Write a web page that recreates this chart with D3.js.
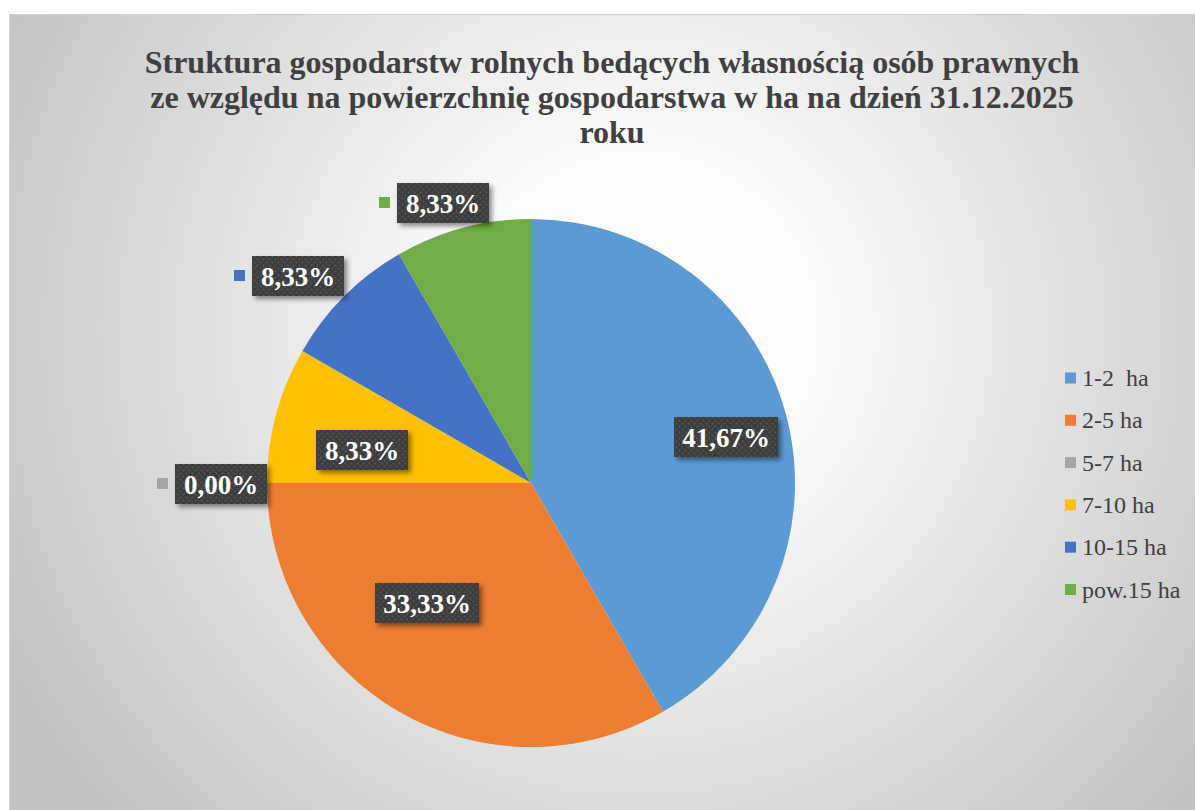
<!DOCTYPE html>
<html lang="pl">
<head>
<meta charset="UTF-8">
<title>Struktura gospodarstw rolnych</title>
<script src="https://d3js.org/d3.v7.min.js"></script>
<style>
  body { margin: 0; background: #fff; }
  svg text { font-family: "Liberation Serif", "Times New Roman", serif; }
</style>
</head>
<body>
<script>
// data
const categories = ["1-2  ha", "2-5 ha", "5-7 ha", "7-10 ha", "10-15 ha", "pow.15 ha"];
const values = [41.67, 33.33, 0.00, 8.33, 8.33, 8.33];
const colors = ["#5B9BD5", "#ED7D31", "#A5A5A5", "#FFC000", "#4472C4", "#70AD47"];
const titleLines = [
  "Struktura gospodarstw rolnych bedących własnością osób prawnych",
  "ze względu na powierzchnię gospodarstwa w ha na dzień 31.12.2025",
  "roku"
];
// label positions (chart coords) and whether a legend key goes next to them
const labelPos = [[726, 437, false], [427, 603, false], [221, 484, true], [362, 450, false], [298, 276, true], [443, 203, true]];

const W = 1195, H = 810;
const cx = 531, cy = 483, r = 264;

const svg = d3.select("body").append("svg")
  .attr("width", W).attr("height", H);

const defs = svg.append("defs");
const grad = defs.append("radialGradient")
  .attr("id", "bg").attr("gradientUnits", "userSpaceOnUse")
  .attr("cx", 640).attr("cy", 330).attr("r", 720);
grad.append("stop").attr("offset", "0%").attr("stop-color", "#ffffff");
grad.append("stop").attr("offset", "25%").attr("stop-color", "#fbfbfb");
grad.append("stop").attr("offset", "100%").attr("stop-color", "#c2c2c2");

const pat = defs.append("pattern")
  .attr("id", "dots").attr("patternUnits", "userSpaceOnUse")
  .attr("width", 6).attr("height", 6);
pat.append("rect").attr("width", 6).attr("height", 6).attr("fill", "#3d3d3d");
pat.append("circle").attr("cx", 1.5).attr("cy", 1.5).attr("r", 0.9).attr("fill", "#575757");
pat.append("circle").attr("cx", 4.5).attr("cy", 4.5).attr("r", 0.9).attr("fill", "#575757");

const shadow = defs.append("filter").attr("id", "shadow")
  .attr("x", "-20%").attr("y", "-30%").attr("width", "150%").attr("height", "180%");
shadow.append("feDropShadow").attr("dx", 3).attr("dy", 3).attr("stdDeviation", 2.5)
  .attr("flood-color", "#000").attr("flood-opacity", 0.45);

// background + border
svg.append("rect").attr("x", 9.5).attr("y", 14.5).attr("width", W).attr("height", H)
  .attr("fill", "url(#bg)").attr("stroke", "#d0d0d0");

// title
svg.append("text")
  .attr("text-anchor", "middle")
  .attr("font-size", 32).attr("font-weight", "bold").attr("fill", "#404040")
  .selectAll("tspan").data(titleLines).join("tspan")
  .attr("x", 612).attr("y", (d, i) => 73 + i * 35)
  .text(d => d);

// pie
const pie = d3.pie().sort(null).value(d => d.v);
const arc = d3.arc().innerRadius(0).outerRadius(r);
const data = categories.map((c, i) => ({ c, v: values[i], color: colors[i], pos: labelPos[i] }));
const arcs = pie(data);

const g = svg.append("g").attr("transform", `translate(${cx},${cy})`);
g.selectAll("path").data(arcs).join("path")
  .attr("d", arc)
  .attr("fill", d => d.data.color);

// labels
const fmt = v => v.toFixed(2).replace(".", ",") + "%";
const lab = svg.append("g").selectAll("g").data(data).join("g")
  .attr("transform", d => `translate(${d.pos[0]},${d.pos[1]})`);
lab.each(function (d) {
  const s = d3.select(this);
  const txt = fmt(d.v);
  const bw = txt.length > 5 ? 104 : 92;
  const bh = 40;
  s.append("rect").attr("x", -bw / 2).attr("y", -bh / 2).attr("width", bw).attr("height", bh)
    .attr("fill", "url(#dots)").attr("filter", "url(#shadow)");
  s.append("text").attr("text-anchor", "middle").attr("y", 10)
    .attr("font-size", 27).attr("font-weight", "bold").attr("fill", "#fff")
    .text(txt);
  if (d.pos[2]) {
    s.append("rect").attr("x", -bw / 2 - 18).attr("y", -6).attr("width", 11).attr("height", 11)
      .attr("fill", d.color);
  }
});

// legend
const leg = svg.append("g").selectAll("g").data(data).join("g")
  .attr("transform", (d, i) => `translate(1065,${378 + i * 42.3})`);
leg.append("rect").attr("x", 0).attr("y", -5.5).attr("width", 11).attr("height", 11)
  .attr("fill", d => d.color);
leg.append("text").attr("x", 17).attr("y", 8)
  .attr("font-size", 24).attr("fill", "#404040")
  .attr("xml:space", "preserve")
  .text(d => d.c);
</script>
</body>
</html>
